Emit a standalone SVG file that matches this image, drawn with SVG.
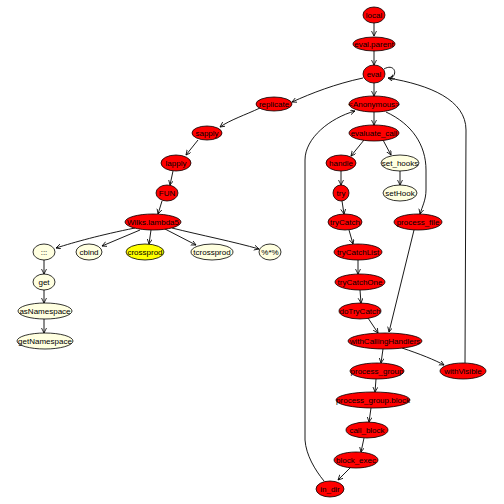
<svg xmlns="http://www.w3.org/2000/svg" width="504" height="504" viewBox="0 0 504 504">
<defs>
<marker id="a" markerWidth="8" markerHeight="8" refX="5" refY="2.5" orient="auto" markerUnits="userSpaceOnUse">
<path d="M0,0 L5,2.5 L0,5" fill="none" stroke="#000" stroke-width="0.8"/>
</marker>
<style>
.r ellipse{fill:#ff0000;stroke:#000;stroke-width:0.8}
.l ellipse{fill:#ffffe0;stroke:#000;stroke-width:0.8}
.y ellipse{fill:#ffff00;stroke:#000;stroke-width:0.8}
text{font-family:"Liberation Sans",Arial,sans-serif;font-size:8px;fill:#000;text-anchor:middle;dominant-baseline:central}
#edges path{fill:none;stroke:#000;stroke-width:0.9;marker-end:url(#a)}
</style>
</defs>
<rect width="504" height="504" fill="#fff"/>
<g id="edges">
<path d="M374,23 L374,36"/>
<path d="M374,51 L374,65"/>
<path d="M384,69 C394,63 399,74 390,79"/>
<path d="M363,78 C335,84 312,93 292,102"/>
<path d="M374,83 L374,96"/>
<path d="M260,108 C245,115 230,120 220,127"/>
<path d="M198,140 L186,155"/>
<path d="M173,171 L170,185"/>
<path d="M162,201 L158,214"/>
<path d="M135,228 C100,235 75,242 56,248"/>
<path d="M140,230 L102,246"/>
<path d="M151,230 L149,244"/>
<path d="M165,229 L196,245"/>
<path d="M172,228 C200,235 235,242 259,249"/>
<path d="M44,260 L44,274"/>
<path d="M44,290 L44,303"/>
<path d="M44,319 L44,333"/>
<path d="M374,112 L374,125"/>
<path d="M386,112 C412,124 426,145 426,170 L426,190 C426,200 422,207 420,214"/>
<path d="M364,140 L351,156"/>
<path d="M383,140 L391,155"/>
<path d="M341,171 L341,185"/>
<path d="M400,171 L400,185"/>
<path d="M342,201 L344,214"/>
<path d="M349,230 L353,244"/>
<path d="M358,260 L358,274"/>
<path d="M360,290 L361,303"/>
<path d="M368,318 L378,333"/>
<path d="M414,230 L389,332"/>
<path d="M383,349 L381,363"/>
<path d="M402,348 C420,354 435,360 444,365"/>
<path d="M376,379 L375,392"/>
<path d="M371,408 L369,422"/>
<path d="M364,438 L361,452"/>
<path d="M351,467 L338,480"/>
<path d="M324,481 C315,470 306,455 305,440 L305,160 C305,138 330,118 355,111"/>
<path d="M465,363 L466,130 C466,100 430,85 388,78"/>
</g>
<g id="local" class="r"><ellipse cx="374" cy="15" rx="11" ry="8"/><text x="374" y="15">local</text></g>
<g id="eval.parent" class="r"><ellipse cx="374" cy="44" rx="21" ry="7"/><text x="374" y="44">eval.parent</text></g>
<g id="eval" class="r"><ellipse cx="374" cy="74" rx="11" ry="9"/><text x="374" y="74">eval</text></g>
<g id="replicate" class="r"><ellipse cx="274" cy="104" rx="18" ry="7"/><text x="274" y="104">replicate</text></g>
<g id="Anonymous" class="r"><ellipse cx="374" cy="104" rx="25" ry="8"/><text x="374" y="104">&lt;Anonymous&gt;</text></g>
<g id="sapply" class="r"><ellipse cx="207" cy="133" rx="15" ry="7"/><text x="207" y="133">sapply</text></g>
<g id="lapply" class="r"><ellipse cx="176" cy="163" rx="15" ry="8"/><text x="176" y="163">lapply</text></g>
<g id="FUN" class="r"><ellipse cx="167" cy="193" rx="11" ry="8"/><text x="167" y="193">FUN</text></g>
<g id="Wilks.lambda5" class="r"><ellipse cx="153" cy="222" rx="28" ry="8"/><text x="153" y="222">Wilks.lambda5</text></g>
<g id="triple" class="l"><ellipse cx="44" cy="252" rx="11" ry="8"/><text x="44" y="252">:::</text></g>
<g id="cbind" class="l"><ellipse cx="89" cy="252" rx="13" ry="8"/><text x="89" y="252">cbind</text></g>
<g id="crossprod" class="y"><ellipse cx="145" cy="252" rx="19" ry="8"/><text x="145" y="252">crossprod</text></g>
<g id="tcrossprod" class="l"><ellipse cx="212" cy="252" rx="21" ry="8"/><text x="212" y="252">tcrossprod</text></g>
<g id="matmul" class="l"><ellipse cx="270" cy="252" rx="11" ry="8"/><text x="270" y="252">%*%</text></g>
<g id="get" class="l"><ellipse cx="44" cy="282" rx="11" ry="8"/><text x="44" y="282">get</text></g>
<g id="asNamespace" class="l"><ellipse cx="45" cy="311" rx="27" ry="8"/><text x="45" y="311">asNamespace</text></g>
<g id="getNamespace" class="l"><ellipse cx="45" cy="341" rx="28" ry="8"/><text x="45" y="341">getNamespace</text></g>
<g id="evaluate_call" class="r"><ellipse cx="374" cy="133" rx="25" ry="8"/><text x="374" y="133">evaluate_call</text></g>
<g id="handle" class="r"><ellipse cx="341" cy="163" rx="15" ry="8"/><text x="341" y="163">handle</text></g>
<g id="set_hooks" class="l"><ellipse cx="400" cy="163" rx="19" ry="8"/><text x="400" y="163">set_hooks</text></g>
<g id="try" class="r"><ellipse cx="341" cy="193" rx="8" ry="8"/><text x="341" y="193">try</text></g>
<g id="setHook" class="l"><ellipse cx="400" cy="193" rx="17" ry="8"/><text x="400" y="193">setHook</text></g>
<g id="tryCatch" class="r"><ellipse cx="345" cy="222" rx="17" ry="8"/><text x="345" y="222">tryCatch</text></g>
<g id="process_file" class="r"><ellipse cx="418" cy="222" rx="24" ry="8"/><text x="418" y="222">process_file</text></g>
<g id="tryCatchList" class="r"><ellipse cx="358" cy="252" rx="24" ry="8"/><text x="358" y="252">tryCatchList</text></g>
<g id="tryCatchOne" class="r"><ellipse cx="360" cy="282" rx="25" ry="8"/><text x="360" y="282">tryCatchOne</text></g>
<g id="doTryCatch" class="r"><ellipse cx="360" cy="311" rx="21" ry="8"/><text x="360" y="311">doTryCatch</text></g>
<g id="withCallingHandlers" class="r"><ellipse cx="385" cy="341" rx="37" ry="8"/><text x="385" y="341">withCallingHandlers</text></g>
<g id="withVisible" class="r"><ellipse cx="463" cy="371" rx="23" ry="8"/><text x="463" y="371">withVisible</text></g>
<g id="process_group" class="r"><ellipse cx="377" cy="371" rx="27" ry="8"/><text x="377" y="371">process_group</text></g>
<g id="process_group.block" class="r"><ellipse cx="373" cy="400" rx="37" ry="8"/><text x="373" y="400">process_group.block</text></g>
<g id="call_block" class="r"><ellipse cx="367" cy="430" rx="21" ry="8"/><text x="367" y="430">call_block</text></g>
<g id="block_exec" class="r"><ellipse cx="356" cy="460" rx="22" ry="8"/><text x="356" y="460">block_exec</text></g>
<g id="in_dir" class="r"><ellipse cx="330" cy="489" rx="14" ry="8"/><text x="330" y="489">in_dir</text></g>
</svg>
